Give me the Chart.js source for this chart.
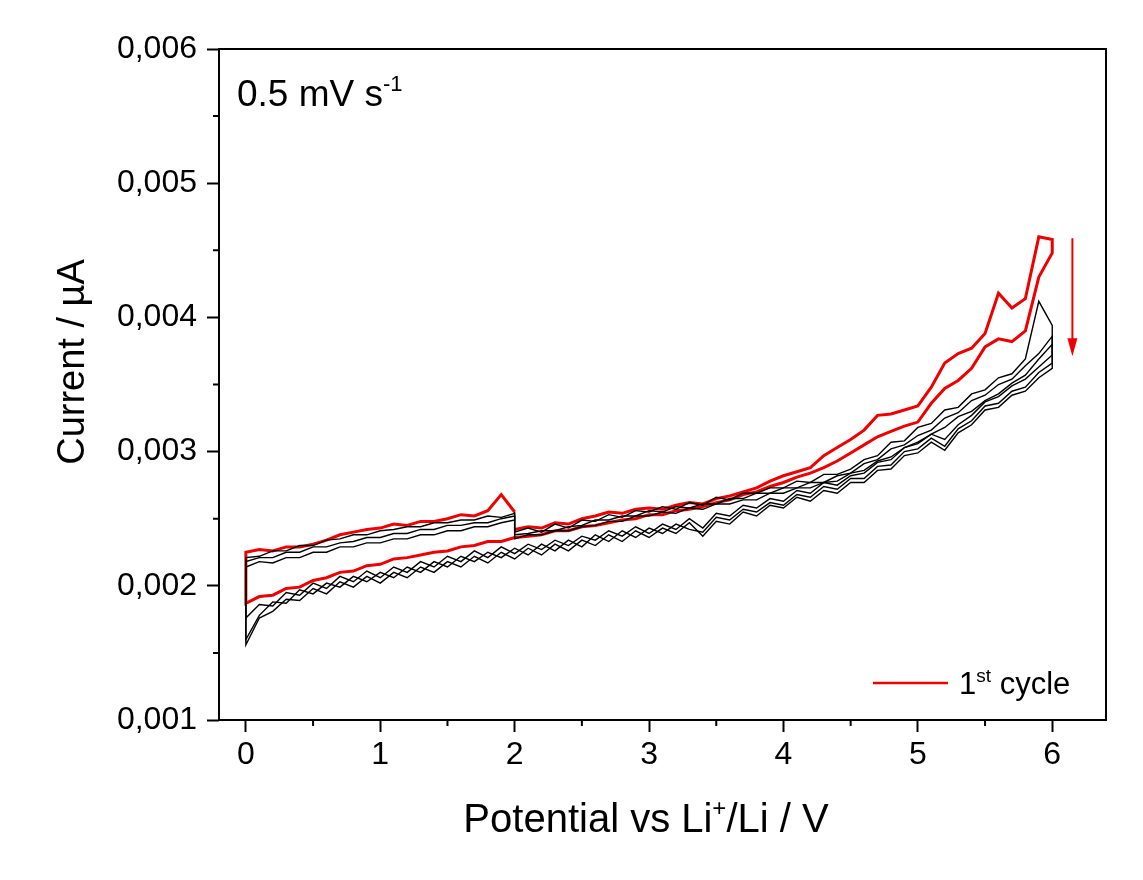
<!DOCTYPE html>
<html>
<head>
<meta charset="utf-8">
<script src="https://cdn.jsdelivr.net/npm/chart.js@4.4.1/dist/chart.umd.min.js"></script>
<style>
  body { margin: 0; background: #fff; }
  #wrap { width: 1143px; height: 880px; }
</style>
</head>
<body>
<div id="wrap"><canvas id="cv" width="1143" height="880"></canvas></div>
<script>
// potentials (V vs Li+/Li)
const potHi = [2.0,2.1,2.2,2.3,2.4,2.5,2.6,2.7,2.8,2.9,3.0,3.1,3.2,3.3,3.4,3.5,3.6,3.7,3.8,3.9,4.0,4.1,4.2,4.3,4.4,4.5,4.6,4.7,4.8,4.9,5.0,5.1,5.2,5.3,5.4,5.5,5.6,5.7,5.8,5.9,6.0];
const potAll = [0.0,0.1,0.2,0.3,0.4,0.5,0.6,0.7,0.8,0.9,1.0,1.1,1.2,1.3,1.4,1.5,1.6,1.7,1.8,1.9,2.0,2.1,2.2,2.3,2.4,2.5,2.6,2.7,2.8,2.9,3.0,3.1,3.2,3.3,3.4,3.5,3.6,3.7,3.8,3.9,4.0,4.1,4.2,4.3,4.4,4.5,4.6,4.7,4.8,4.9,5.0,5.1,5.2,5.3,5.4,5.5,5.6,5.7,5.8,5.9,6.0];
const potLo = [0.0,0.1,0.2,0.3,0.4,0.5,0.6,0.7,0.8,0.9,1.0,1.1,1.2,1.3,1.4,1.5,1.6,1.7,1.8,1.9,2.0];

// current in nA (converted to µA below)
// 1st cycle (red)
const redHi = [2.42,2.44,2.43,2.47,2.46,2.50,2.52,2.55,2.54,2.57,2.58,2.57,2.60,2.62,2.61,2.65,2.67,2.70,2.73,2.78,2.82,2.85,2.88,2.97,3.03,3.09,3.16,3.27,3.28,3.31,3.34,3.48,3.66,3.73,3.77,3.88,4.18,4.07,4.14,4.60,4.58];
const redAll = [1.87,1.92,1.93,1.98,1.99,2.04,2.06,2.10,2.11,2.15,2.16,2.20,2.21,2.23,2.25,2.26,2.29,2.30,2.33,2.33,2.36,2.37,2.38,2.41,2.41,2.44,2.45,2.47,2.49,2.50,2.53,2.53,2.56,2.57,2.59,2.62,2.64,2.68,2.70,2.74,2.77,2.81,2.84,2.88,2.93,2.99,3.05,3.11,3.15,3.19,3.22,3.36,3.47,3.53,3.62,3.78,3.84,3.82,3.90,4.30,4.48];
const redLo = [2.25,2.27,2.26,2.29,2.29,2.31,2.34,2.38,2.40,2.42,2.43,2.46,2.45,2.48,2.48,2.50,2.53,2.52,2.56,2.68,2.55];

// following cycles (black)
const blk2Hi = [2.40,2.43,2.40,2.46,2.43,2.49,2.48,2.53,2.51,2.56,2.55,2.59,2.57,2.62,2.60,2.66,2.64,2.69,2.69,2.73,2.73,2.78,2.77,2.83,2.83,2.87,2.94,2.97,3.07,3.08,3.18,3.21,3.31,3.33,3.43,3.46,3.55,3.58,3.69,4.12,3.94];
const blk3Hi = [2.38,2.39,2.41,2.41,2.44,2.45,2.49,2.49,2.52,2.52,2.56,2.55,2.59,2.58,2.61,2.61,2.65,2.65,2.69,2.69,2.73,2.73,2.77,2.77,2.82,2.84,2.91,2.94,3.02,3.05,3.12,3.16,3.25,3.29,3.38,3.42,3.50,3.54,3.64,3.73,3.86];
const blk4Hi = [2.35,2.38,2.38,2.41,2.41,2.44,2.45,2.48,2.48,2.52,2.52,2.55,2.54,2.58,2.57,2.61,2.61,2.64,2.64,2.69,2.69,2.73,2.73,2.77,2.78,2.84,2.86,2.93,2.96,3.03,3.06,3.13,3.18,3.26,3.30,3.38,3.43,3.51,3.57,3.69,3.80];

const blk2All = [1.76,1.86,1.85,1.95,1.93,2.02,1.98,2.07,2.03,2.11,2.06,2.14,2.10,2.18,2.14,2.22,2.18,2.26,2.21,2.29,2.24,2.31,2.27,2.34,2.30,2.37,2.34,2.41,2.37,2.44,2.39,2.46,2.42,2.50,2.43,2.54,2.52,2.60,2.58,2.65,2.63,2.71,2.69,2.77,2.75,2.82,2.84,2.92,2.94,3.03,3.07,3.13,3.09,3.20,3.27,3.37,3.41,3.49,3.54,3.63,3.72];
const blk3All = [1.60,1.78,1.88,1.87,1.97,1.94,2.02,1.99,2.07,2.03,2.10,2.06,2.14,2.10,2.18,2.14,2.22,2.18,2.25,2.21,2.28,2.23,2.31,2.26,2.34,2.29,2.38,2.33,2.41,2.36,2.43,2.39,2.46,2.42,2.40,2.51,2.49,2.57,2.55,2.62,2.60,2.68,2.66,2.74,2.72,2.80,2.80,2.89,2.90,3.00,3.02,3.10,3.04,3.17,3.23,3.34,3.36,3.45,3.48,3.59,3.66];
const blk4All = [1.56,1.76,1.81,1.90,1.89,1.98,1.94,2.03,1.99,2.07,2.02,2.10,2.06,2.14,2.10,2.18,2.14,2.22,2.17,2.25,2.20,2.28,2.23,2.31,2.26,2.34,2.30,2.38,2.33,2.41,2.36,2.43,2.39,2.47,2.37,2.48,2.46,2.55,2.52,2.60,2.58,2.66,2.63,2.71,2.69,2.77,2.77,2.86,2.87,2.97,2.99,3.07,3.01,3.14,3.20,3.31,3.33,3.42,3.45,3.55,3.62];

const blk2Lo = [2.21,2.22,2.26,2.26,2.30,2.30,2.34,2.35,2.38,2.38,2.41,2.42,2.44,2.44,2.47,2.47,2.49,2.49,2.52,2.51,2.54];
const blk3Lo = [2.18,2.21,2.21,2.25,2.25,2.29,2.29,2.32,2.33,2.36,2.36,2.39,2.39,2.42,2.42,2.45,2.45,2.47,2.47,2.50,2.52];
const blk4Lo = [2.14,2.18,2.17,2.21,2.21,2.25,2.25,2.29,2.29,2.32,2.32,2.35,2.35,2.38,2.38,2.41,2.41,2.44,2.44,2.47,2.49];

const xTicks = [0, 1, 2, 3, 4, 5, 6];
const xMinor = [0.5, 1.5, 2.5, 3.5, 4.5, 5.5];
const yTicks = [0.001, 0.002, 0.003, 0.004, 0.005, 0.006];
const yMinor = [0.0015, 0.0025, 0.0035, 0.0045, 0.0055];
const arrowX = 6.15, arrowFrom = 0.00459, arrowTo = 0.00371;

const FONT = "'Liberation Sans', Arial, sans-serif";
const RED = '#ee0000';

// one scan: 2 -> 6, 6 -> 0, 0 -> 2 ; prev = last current of the cycle before
function cycle(hi, all, lo, prev) {
    let pts = [];
    if (prev !== undefined) pts.push({x: potLo[potLo.length - 1], y: prev / 1000});
    hi.forEach((v, i) => pts.push({x: potHi[i], y: v / 1000}));
    for (let i = all.length - 1; i >= 0; i--) pts.push({x: potAll[i], y: all[i] / 1000});
    lo.forEach((v, i) => pts.push({x: potLo[i], y: v / 1000}));
    return pts;
}

function line(data, color, width) {
    return {data: data, borderColor: color, borderWidth: width, pointRadius: 0, tension: 0, fill: false};
}

const last = a => a[a.length - 1];
const datasets = [
    line(cycle(blk4Hi, blk4All, blk4Lo, last(blk3Lo)), '#000', 1.4),
    line(cycle(blk3Hi, blk3All, blk3Lo, last(blk2Lo)), '#000', 1.4),
    line(cycle(blk2Hi, blk2All, blk2Lo, last(redLo)), '#000', 1.4),
    line(cycle(redHi, redAll, redLo), RED, 3)
];

function textWithSup(ctx, parts, x, y, align) {
    let w = 0;
    parts.forEach(p => {
        ctx.font = p[2];
        w += ctx.measureText(p[0]).width;
    });
    let cx = align === 'center' ? x - w / 2 : x;
    ctx.textAlign = 'left';
    ctx.textBaseline = 'alphabetic';
    parts.forEach(p => {
        ctx.font = p[2];
        ctx.fillText(p[0], cx, p[1] ? y - p[3] : y);
        cx += ctx.measureText(p[0]).width;
    });
}

const decor = {
    id: 'decor',
    afterDraw(chart) {
        const ctx = chart.ctx, a = chart.chartArea;
        const xs = chart.scales.x, ys = chart.scales.y;
        ctx.save();
        ctx.strokeStyle = '#000';
        ctx.lineWidth = 2;
        ctx.strokeRect(a.left, a.top, a.right - a.left, a.bottom - a.top);
        // minor ticks
        ctx.beginPath();
        xMinor.forEach(v => {
            const px = xs.getPixelForValue(v);
            ctx.moveTo(px, a.bottom); ctx.lineTo(px, a.bottom + 6);
        });
        yMinor.forEach(v => {
            const py = ys.getPixelForValue(v);
            ctx.moveTo(a.left, py); ctx.lineTo(a.left - 6, py);
        });
        ctx.stroke();

        ctx.fillStyle = '#000';
        // axis titles
        textWithSup(ctx, [
            ['Potential vs Li', false, '40px ' + FONT],
            ['+', true, '24px ' + FONT, 16],
            ['/Li / V', false, '40px ' + FONT]
        ], 646, 832, 'center');
        ctx.save();
        ctx.translate(84, 362);
        ctx.rotate(-Math.PI / 2);
        ctx.font = '38px ' + FONT;
        ctx.textAlign = 'center';
        ctx.textBaseline = 'alphabetic';
        ctx.fillText('Current / µA', 0, 0);
        ctx.restore();

        // scan rate
        textWithSup(ctx, [
            ['0.5 mV s', false, '37px ' + FONT],
            ['-1', true, '22px ' + FONT, 15]
        ], 237, 106, 'left');

        // legend
        ctx.strokeStyle = RED;
        ctx.lineWidth = 2.5;
        ctx.beginPath();
        ctx.moveTo(873, 683); ctx.lineTo(948, 683);
        ctx.stroke();
        textWithSup(ctx, [
            ['1', false, '31px ' + FONT],
            ['st', true, '19px ' + FONT, 12],
            [' cycle', false, '31px ' + FONT]
        ], 959, 694, 'left');

        // arrow
        const ax = xs.getPixelForValue(arrowX);
        const ay1 = ys.getPixelForValue(arrowFrom), ay2 = ys.getPixelForValue(arrowTo);
        ctx.strokeStyle = RED;
        ctx.fillStyle = RED;
        ctx.lineWidth = 2;
        ctx.beginPath();
        ctx.moveTo(ax, ay1); ctx.lineTo(ax, ay2 - 16);
        ctx.stroke();
        ctx.beginPath();
        ctx.moveTo(ax - 5, ay2 - 18);
        ctx.lineTo(ax + 5, ay2 - 18);
        ctx.lineTo(ax, ay2);
        ctx.closePath();
        ctx.fill();
        ctx.restore();
    }
};

new Chart(document.getElementById('cv'), {
    type: 'line',
    data: {datasets: datasets},
    options: {
        responsive: false,
        animation: false,
        devicePixelRatio: 1,
        layout: {padding: {top: 49, right: 37, left: 0, bottom: 0}},
        plugins: {legend: {display: false}, tooltip: {enabled: false}},
        scales: {
            x: {
                type: 'linear',
                min: -0.2,
                max: 6.4,
                afterBuildTicks: s => { s.ticks = xTicks.map(v => ({value: v})); },
                afterFit: s => { s.height = 160; },
                border: {display: false},
                grid: {drawOnChartArea: false, tickLength: 12, tickWidth: 2, tickColor: '#000'},
                ticks: {color: '#000', font: {family: FONT, size: 32}, padding: 4, maxRotation: 0, autoSkip: false}
            },
            y: {
                min: 0.001,
                max: 0.006,
                afterBuildTicks: s => { s.ticks = yTicks.map(v => ({value: v})); },
                afterFit: s => { s.width = 219; },
                border: {display: false},
                grid: {drawOnChartArea: false, tickLength: 12, tickWidth: 2, tickColor: '#000'},
                ticks: {
                    color: '#000', font: {family: FONT, size: 32}, padding: 10,
                    callback: v => v.toFixed(3).replace('.', ',')
                }
            }
        }
    },
    plugins: [decor]
});
</script>
</body>
</html>
